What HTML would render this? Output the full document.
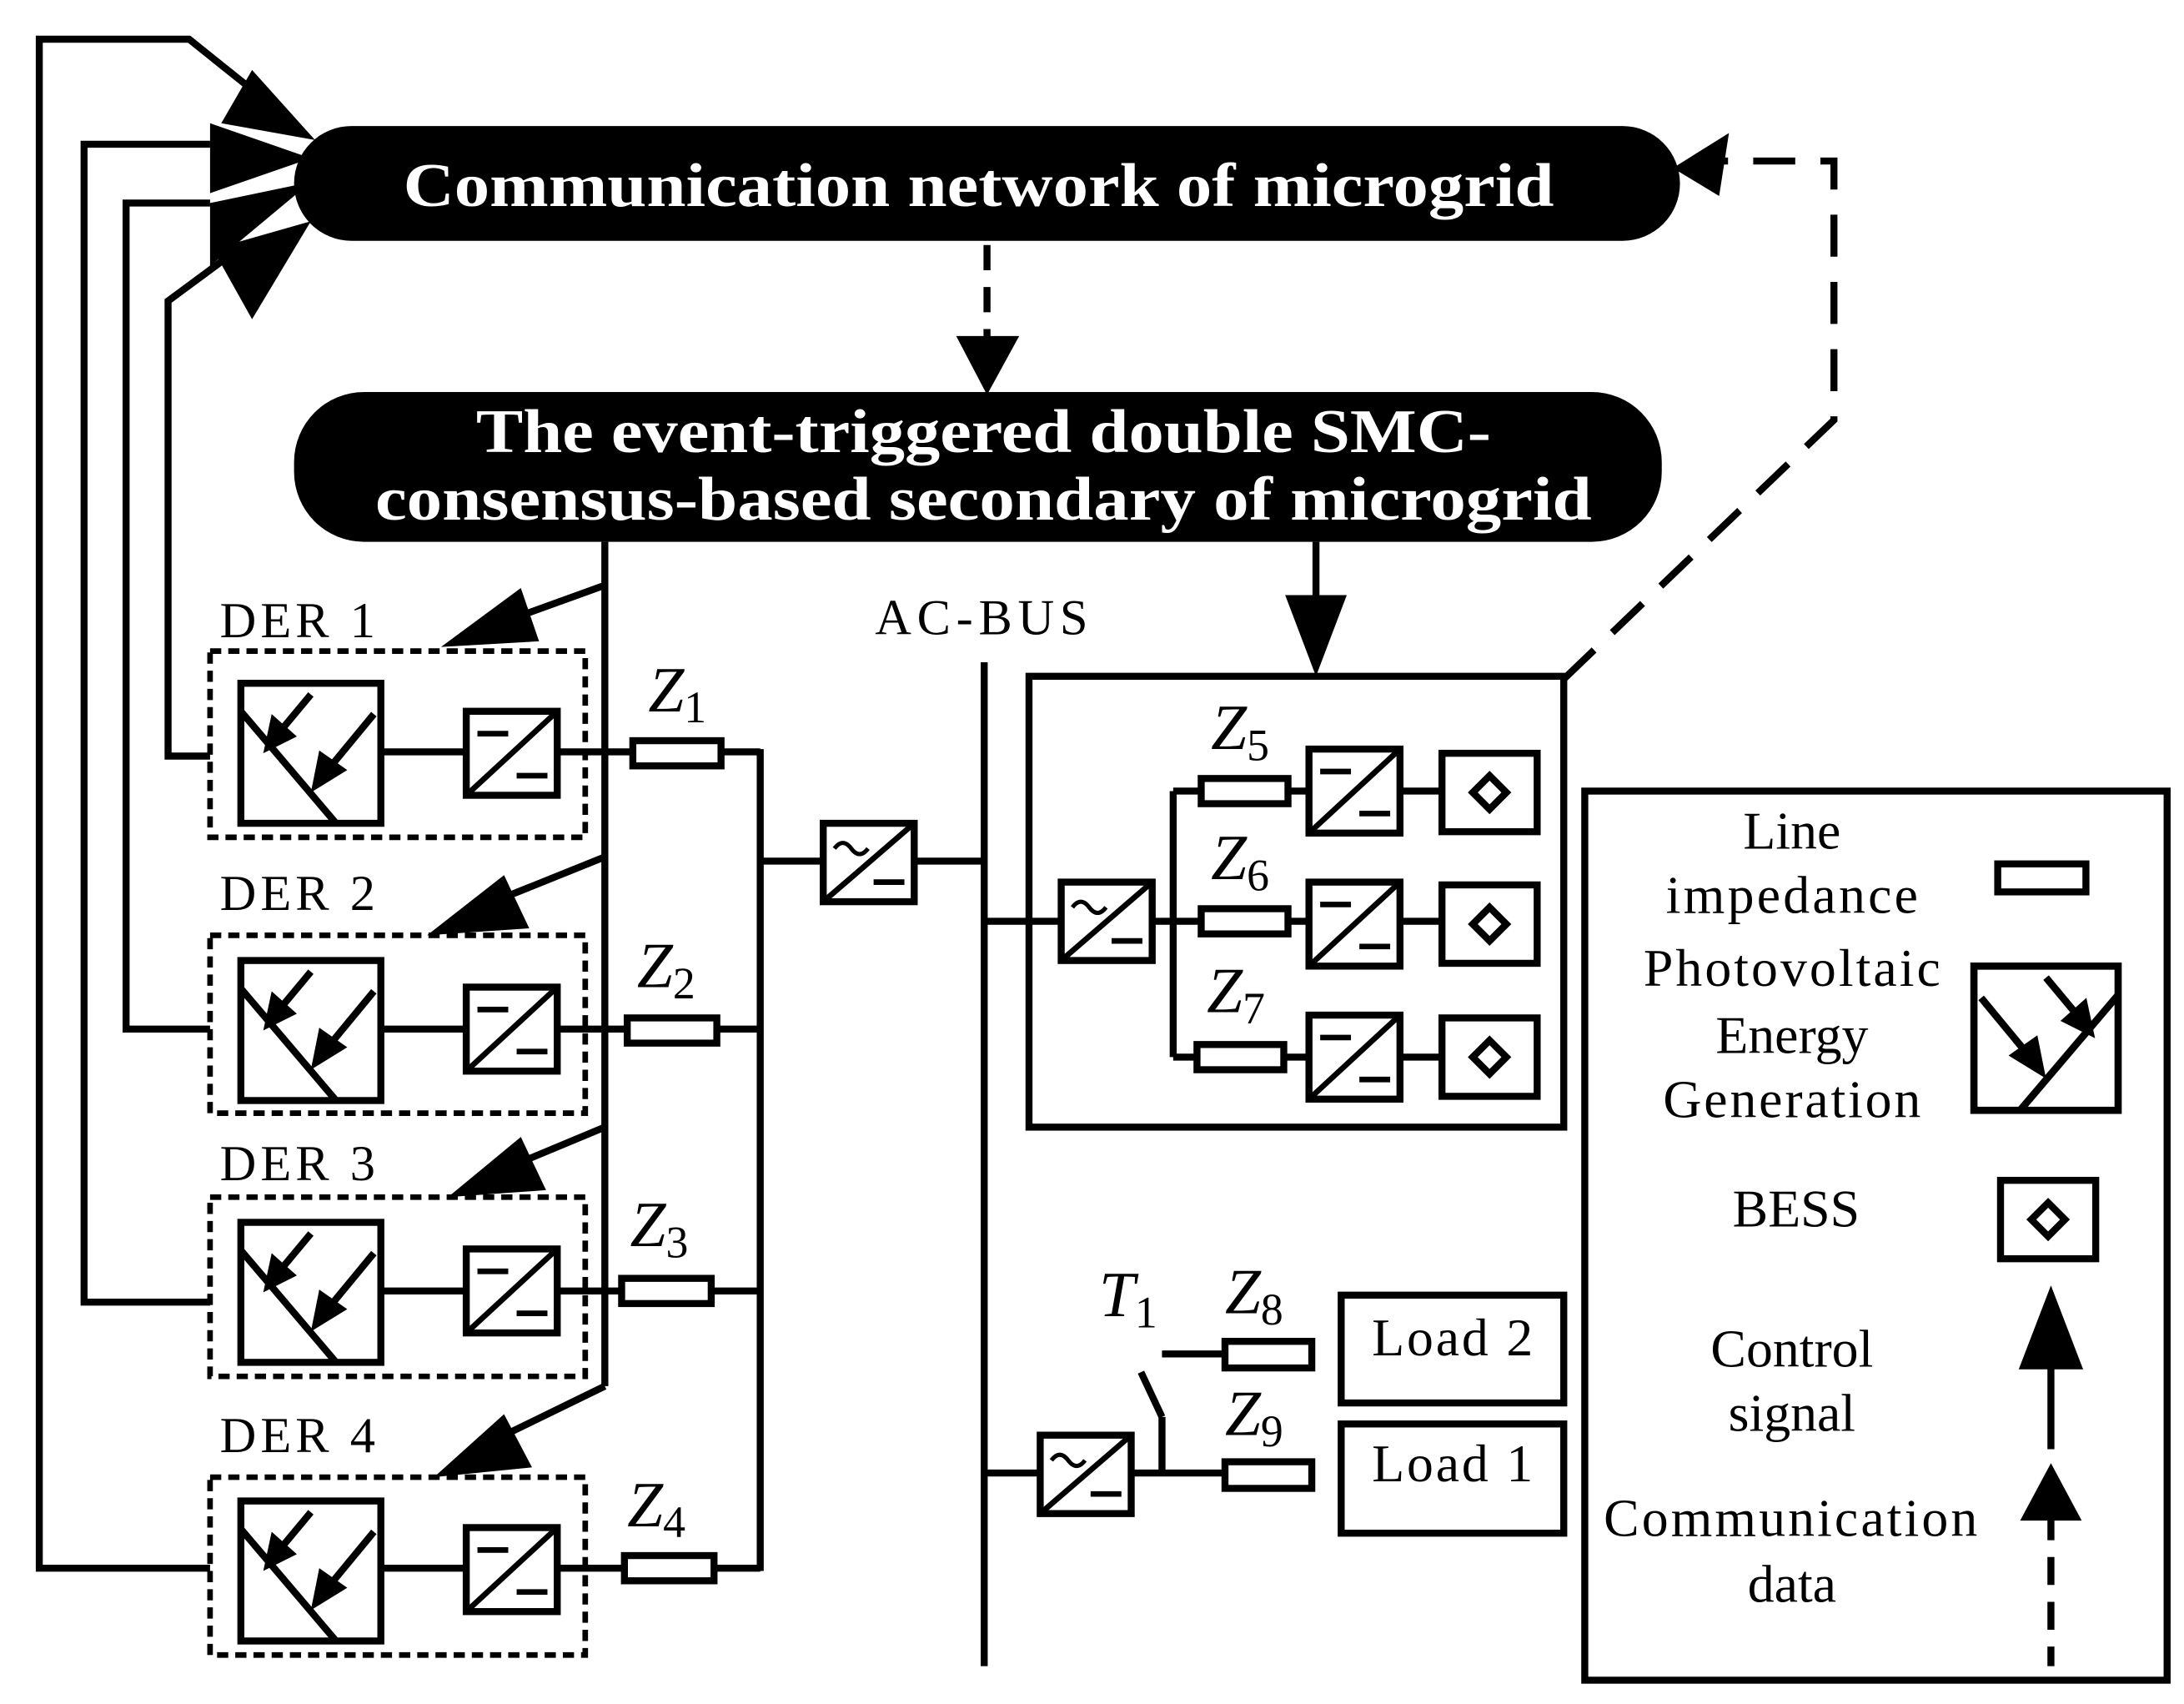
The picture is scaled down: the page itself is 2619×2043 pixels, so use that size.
<!DOCTYPE html>
<html><head><meta charset="utf-8"><style>
html,body{margin:0;padding:0;background:#fff;}
svg{display:block;}
</style></head><body>
<svg width="2619" height="2043" viewBox="0 0 1560 1217" xmlns="http://www.w3.org/2000/svg" font-family="Liberation Serif, Times New Roman, serif">
<defs>
<g id="pv">
<rect x="0" y="0" width="100" height="100" fill="#fff" stroke="#000" stroke-width="5"/>
<line x1="0" y1="20" x2="68" y2="100" stroke="#000" stroke-width="5"/>
<line x1="50" y1="8" x2="25" y2="38" stroke="#000" stroke-width="5"/>
<polygon points="16,50 22,22 40,38" fill="#000"/>
<line x1="95" y1="22" x2="62" y2="62" stroke="#000" stroke-width="5"/>
<polygon points="50,78 56,48 76,62" fill="#000"/>
</g>
<g id="dc">
<rect x="0" y="0" width="65" height="60" fill="#fff" stroke="#000" stroke-width="5"/>
<line x1="0" y1="60" x2="65" y2="0" stroke="#000" stroke-width="4"/>
<line x1="8" y1="16" x2="30" y2="16" stroke="#000" stroke-width="4"/>
<line x1="36" y1="46" x2="58" y2="46" stroke="#000" stroke-width="4"/>
</g>
<g id="ac">
<rect x="0" y="0" width="65" height="56" fill="#fff" stroke="#000" stroke-width="5"/>
<line x1="0" y1="56" x2="65" y2="0" stroke="#000" stroke-width="4"/>
<path d="M8,18 q6,-8 12,0 t12,0" fill="none" stroke="#000" stroke-width="3"/>
<line x1="36" y1="42" x2="58" y2="42" stroke="#000" stroke-width="4"/>
</g>
<g id="bess">
<rect x="0" y="0" width="68" height="56" fill="#fff" stroke="#000" stroke-width="5"/>
<polygon points="34,16 46,28 34,40 22,28" fill="none" stroke="#000" stroke-width="5"/>
</g>
</defs>

<rect x="210" y="90" width="990" height="82" rx="41" fill="#000"/>
<text x="288" y="147" font-size="44" font-weight="bold" fill="#fff" textLength="822" lengthAdjust="spacingAndGlyphs">Communication network of microgrid</text>
<rect x="210" y="280" width="977" height="107" rx="50" fill="#000"/>
<text x="340" y="323" font-size="44" font-weight="bold" fill="#fff" textLength="725" lengthAdjust="spacingAndGlyphs">The event-triggered double SMC-</text>
<text x="268" y="371" font-size="44" font-weight="bold" fill="#fff" textLength="869" lengthAdjust="spacingAndGlyphs">consensus-based secondary of microgrid</text>

<g stroke="#000" stroke-width="5" fill="none">
<line x1="705" y1="175" x2="705" y2="245" stroke-dasharray="18,12"/>
<polyline points="1117,485 1310,300 1310,115 1215,115" stroke-dasharray="30,18"/>
<polyline points="150,1120 28,1120 28,28 135,28 190,72"/>
<polyline points="150,930 60,930 60,103 150,103"/>
<polyline points="150,735 90,735 90,145 150,145"/>
<polyline points="150,540 120,540 120,215 170,178"/>
<line x1="432" y1="387" x2="432" y2="990"/>
<line x1="432" y1="418" x2="360" y2="444"/>
<line x1="432" y1="612" x2="350" y2="645"/>
<line x1="432" y1="805" x2="360" y2="835"/>
<line x1="432" y1="990" x2="350" y2="1030"/>
<line x1="940" y1="387" x2="940" y2="430"/>
</g>
<polygon points="683,240 728,240 705,282" fill="#000"/>
<polygon points="1195,120 1235,95 1228,140" fill="#000"/>
<polygon points="918,425 962,425 940,483" fill="#000"/>
<polygon points="225,100 180,50 158,88" fill="#000"/>
<polygon points="222,113 150,88 150,138" fill="#000"/>
<polygon points="222,130 150,145 150,190 " fill="#000"/>
<polygon points="222,158 152,178 180,228" fill="#000"/>
<polygon points="315,462 372,420 385,458" fill="#000"/>
<polygon points="305,668 360,625 378,663" fill="#000"/>
<polygon points="320,855 372,812 390,850" fill="#000"/>
<polygon points="310,1055 360,1010 380,1048" fill="#000"/>

<g font-size="36">
<text x="157" y="455" textLength="111">DER 1</text>
<text x="157" y="650" textLength="111">DER 2</text>
<text x="157" y="843" textLength="111">DER 3</text>
<text x="157" y="1037" textLength="111">DER 4</text>
</g>
<g stroke="#000" stroke-width="4" fill="none" stroke-dasharray="8,5">
<rect x="150" y="465" width="268" height="133"/>
<rect x="150" y="668" width="268" height="127"/>
<rect x="150" y="855" width="268" height="128"/>
<rect x="150" y="1055" width="268" height="127"/>
</g>
<g stroke="#000" stroke-width="5" fill="none">
<line x1="272" y1="537" x2="333" y2="537"/><line x1="398" y1="537" x2="452" y2="537"/><line x1="515" y1="537" x2="543" y2="537"/>
<line x1="272" y1="735" x2="333" y2="735"/><line x1="398" y1="735" x2="448" y2="735"/><line x1="512" y1="735" x2="543" y2="735"/>
<line x1="272" y1="922" x2="333" y2="922"/><line x1="398" y1="922" x2="444" y2="922"/><line x1="508" y1="922" x2="543" y2="922"/>
<line x1="272" y1="1120" x2="333" y2="1120"/><line x1="398" y1="1120" x2="446" y2="1120"/><line x1="510" y1="1120" x2="543" y2="1120"/>
<line x1="543" y1="535" x2="543" y2="1122"/>
<line x1="543" y1="615" x2="588" y2="615"/><line x1="655" y1="615" x2="703" y2="615"/>
<line x1="703" y1="473" x2="703" y2="1190"/>
<rect x="452" y="529" width="63" height="18"/>
<rect x="448" y="727" width="64" height="18"/>
<rect x="444" y="913" width="64" height="18"/>
<rect x="446" y="1111" width="64" height="18"/>
</g>
<use href="#pv" x="172" y="488"/><use href="#dc" x="333" y="508"/>
<use href="#pv" x="172" y="686"/><use href="#dc" x="333" y="705"/>
<use href="#pv" x="172" y="873"/><use href="#dc" x="333" y="892"/>
<use href="#pv" x="172" y="1072"/><use href="#dc" x="333" y="1091"/>
<use href="#ac" x="588" y="588"/>
<g font-size="46" font-style="italic">
<text x="463" y="508">Z<tspan font-size="32" font-style="normal" dy="8">1</tspan></text>
<text x="455" y="705">Z<tspan font-size="32" font-style="normal" dy="8">2</tspan></text>
<text x="450" y="890">Z<tspan font-size="32" font-style="normal" dy="8">3</tspan></text>
<text x="448" y="1090">Z<tspan font-size="32" font-style="normal" dy="8">4</tspan></text>
<text x="865" y="535">Z<tspan font-size="32" font-style="normal" dy="8">5</tspan></text>
<text x="865" y="628">Z<tspan font-size="32" font-style="normal" dy="8">6</tspan></text>
<text x="862" y="723">Z<tspan font-size="32" font-style="normal" dy="8">7</tspan></text>
<text x="875" y="938">Z<tspan font-size="32" font-style="normal" dy="8">8</tspan></text>
<text x="875" y="1025">Z<tspan font-size="32" font-style="normal" dy="8">9</tspan></text>
<text x="785" y="940">T<tspan font-size="32" font-style="normal" dy="8">1</tspan></text>
</g>
<text x="625" y="453" font-size="36" textLength="152">AC-BUS</text>

<g stroke="#000" stroke-width="5" fill="none">
<rect x="735" y="483" width="382" height="322"/>
<line x1="703" y1="658" x2="758" y2="658"/><line x1="823" y1="658" x2="838" y2="658"/>
<line x1="838" y1="565" x2="838" y2="755"/>
<line x1="838" y1="565" x2="858" y2="565"/><line x1="920" y1="565" x2="935" y2="565"/><line x1="1000" y1="565" x2="1030" y2="565"/>
<line x1="838" y1="658" x2="858" y2="658"/><line x1="920" y1="658" x2="935" y2="658"/><line x1="1000" y1="658" x2="1030" y2="658"/>
<line x1="838" y1="755" x2="855" y2="755"/><line x1="917" y1="755" x2="935" y2="755"/><line x1="1000" y1="755" x2="1030" y2="755"/>
<rect x="858" y="556" width="62" height="18"/>
<rect x="858" y="649" width="62" height="18"/>
<rect x="855" y="746" width="62" height="18"/>
</g>
<use href="#ac" x="758" y="630"/>
<use href="#dc" x="935" y="535"/><use href="#dc" x="935" y="630"/><use href="#dc" x="935" y="725"/>
<use href="#bess" x="1030" y="538"/><use href="#bess" x="1030" y="632"/><use href="#bess" x="1030" y="727"/>

<g stroke="#000" stroke-width="5" fill="none">
<line x1="703" y1="1052" x2="743" y2="1052"/><line x1="805" y1="1052" x2="875" y2="1052"/>
<line x1="830" y1="1052" x2="830" y2="1012"/><line x1="830" y1="1012" x2="815" y2="980"/>
<line x1="830" y1="967" x2="875" y2="967"/>
<rect x="875" y="958" width="62" height="19"/>
<rect x="875" y="1044" width="62" height="19"/>
<rect x="958" y="925" width="159" height="77"/>
<rect x="958" y="1017" width="159" height="78"/>
</g>
<use href="#ac" x="743" y="1025"/>
<text x="980" y="968" font-size="38" textLength="115">Load 2</text>
<text x="980" y="1058" font-size="38" textLength="115">Load 1</text>

<rect x="1132" y="565" width="416" height="635" fill="none" stroke="#000" stroke-width="5"/>
<g font-size="38" text-anchor="middle">
<text x="1280" y="606">Line</text>
<text x="1280" y="652" textLength="180">impedance</text>
<text x="1280" y="704" textLength="212">Photovoltaic</text>
<text x="1280" y="752">Energy</text>
<text x="1280" y="798" textLength="184">Generation</text>
<text x="1283" y="876">BESS</text>
<text x="1280" y="976">Control</text>
<text x="1280" y="1022">signal</text>
<text x="1279" y="1097" textLength="267">Communication</text>
<text x="1280" y="1144">data</text>
</g>
<rect x="1427" y="617" width="63" height="20" fill="none" stroke="#000" stroke-width="5"/>
<g transform="translate(1513,690) scale(-1,1)"><use href="#pv" transform="scale(1.03)"/></g>
<use href="#bess" x="1429" y="843"/>
<line x1="1465" y1="960" x2="1465" y2="1035" stroke="#000" stroke-width="5"/>
<polygon points="1442,978 1488,978 1465,918" fill="#000"/>
<line x1="1465" y1="1080" x2="1465" y2="1190" stroke="#000" stroke-width="5" stroke-dasharray="20,12"/>
<polygon points="1443,1086 1487,1086 1465,1045" fill="#000"/>
</svg>
</body></html>
